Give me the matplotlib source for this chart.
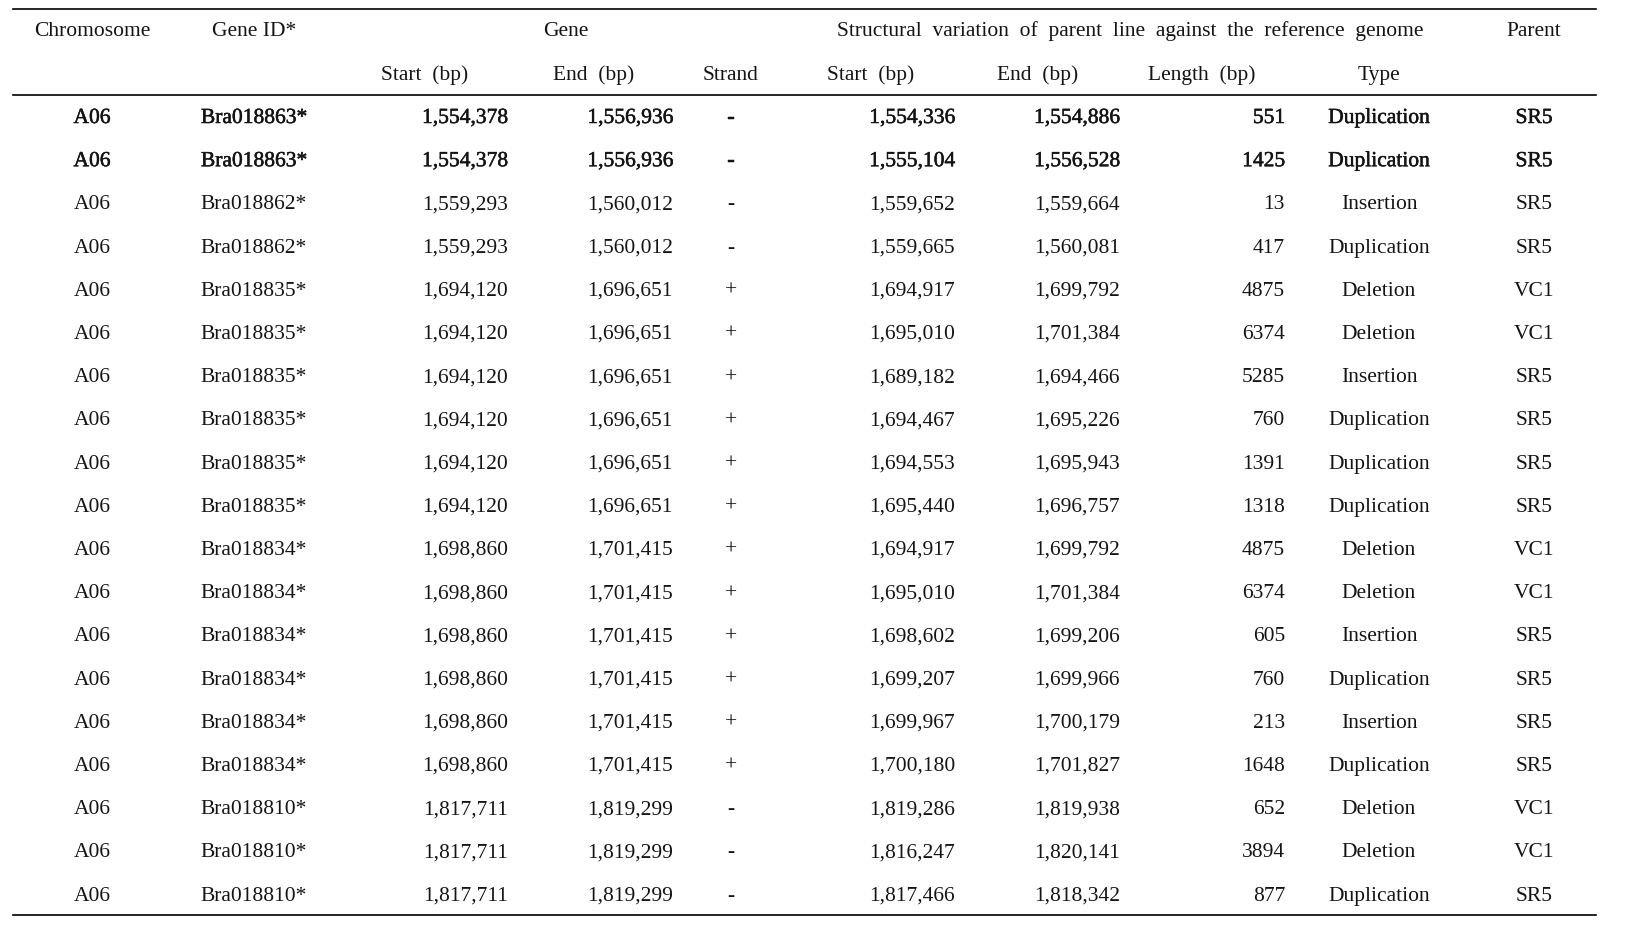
import matplotlib
matplotlib.use("Agg")
import matplotlib.pyplot as plt
import matplotlib.patheffects as pe

plt.rcParams['font.family'] = ['Liberation Serif', 'DejaVu Serif']

# table data
chromosome = ["A06"] * 19
gene_id = ["Bra018863*", "Bra018863*", "Bra018862*", "Bra018862*",
           "Bra018835*", "Bra018835*", "Bra018835*", "Bra018835*", "Bra018835*", "Bra018835*",
           "Bra018834*", "Bra018834*", "Bra018834*", "Bra018834*", "Bra018834*", "Bra018834*",
           "Bra018810*", "Bra018810*", "Bra018810*"]
gene_start = [1554378, 1554378, 1559293, 1559293,
              1694120, 1694120, 1694120, 1694120, 1694120, 1694120,
              1698860, 1698860, 1698860, 1698860, 1698860, 1698860,
              1817711, 1817711, 1817711]
gene_end = [1556936, 1556936, 1560012, 1560012,
            1696651, 1696651, 1696651, 1696651, 1696651, 1696651,
            1701415, 1701415, 1701415, 1701415, 1701415, 1701415,
            1819299, 1819299, 1819299]
strand = ["-", "-", "-", "-", "+", "+", "+", "+", "+", "+",
          "+", "+", "+", "+", "+", "+", "-", "-", "-"]
sv_start = [1554336, 1555104, 1559652, 1559665, 1694917, 1695010, 1689182, 1694467,
            1694553, 1695440, 1694917, 1695010, 1698602, 1699207, 1699967, 1700180,
            1819286, 1816247, 1817466]
sv_end = [1554886, 1556528, 1559664, 1560081, 1699792, 1701384, 1694466, 1695226,
          1695943, 1696757, 1699792, 1701384, 1699206, 1699966, 1700179, 1701827,
          1819938, 1820141, 1818342]
sv_length = [551, 1425, 13, 417, 4875, 6374, 5285, 760, 1391, 1318,
             4875, 6374, 605, 760, 213, 1648, 652, 3894, 877]
sv_type = ["Duplication", "Duplication", "Insertion", "Duplication", "Deletion", "Deletion",
           "Insertion", "Duplication", "Duplication", "Duplication", "Deletion", "Deletion",
           "Insertion", "Duplication", "Insertion", "Duplication", "Deletion", "Deletion",
           "Duplication"]
parent = ["SR5", "SR5", "SR5", "SR5", "VC1", "VC1", "SR5", "SR5", "SR5", "SR5",
          "VC1", "VC1", "SR5", "SR5", "SR5", "SR5", "VC1", "VC1", "SR5"]
bold_rows = [0, 1]

W, H = 1647, 941
fig = plt.figure(figsize=(W / 100, H / 100), dpi=100)
ax = fig.add_axes([0, 0, 1, 1])
ax.set_xlim(0, W)
ax.set_ylim(H, 0)
ax.axis('off')

fs = 15.5
color = "#141414"

# rules
x0, x1 = 13, 1596
ax.plot([x0, x1], [8.5, 8.5], color="black", lw=1.2)
ax.plot([x0, x1], [95, 95], color="black", lw=1.2)
ax.plot([x0, x1], [915, 915], color="black", lw=1.2)

# header
h1, h2 = 31, 75
ax.text(92, h1, "Chromosome", ha="center", va="center", fontsize=fs, color=color)
ax.text(254, h1, "Gene ID*", ha="center", va="center", fontsize=fs, color=color)
ax.text(566, h1, "Gene", ha="center", va="center", fontsize=fs, color=color)
ax.text(1130, h1, "Structural  variation  of  parent  line  against  the  reference  genome",
        ha="center", va="center", fontsize=fs, color=color)
ax.text(1534, h1, "Parent", ha="center", va="center", fontsize=fs, color=color)

sub_headers = ["Start  (bp)", "End  (bp)", "Strand", "Start  (bp)", "End  (bp)", "Length  (bp)", "Type"]
sub_x = [425, 594, 731, 871, 1038, 1202, 1379]
for label, xx in zip(sub_headers, sub_x):
    ax.text(xx, h2, label, ha="center", va="center", fontsize=fs, color=color)

# body
y_first, dy = 118.5, 43.2
# first two rows are only slightly heavier in the source
heavy = [pe.withStroke(linewidth=0.35, foreground=color)]
for i in range(len(chromosome)):
    y = y_first + i * dy
    kw = dict(va="center", fontsize=fs, color=color)
    if i in bold_rows:
        kw["path_effects"] = heavy
    ax.text(92, y, chromosome[i], ha="center", **kw)
    ax.text(254, y, gene_id[i], ha="center", **kw)
    ax.text(508, y, f"{gene_start[i]:,}", ha="right", **kw)
    ax.text(673, y, f"{gene_end[i]:,}", ha="right", **kw)
    ax.text(731, y, strand[i], ha="center", **kw)
    ax.text(955, y, f"{sv_start[i]:,}", ha="right", **kw)
    ax.text(1120, y, f"{sv_end[i]:,}", ha="right", **kw)
    ax.text(1285, y, str(sv_length[i]), ha="right", **kw)
    ax.text(1379, y, sv_type[i], ha="center", **kw)
    ax.text(1534, y, parent[i], ha="center", **kw)

fig.savefig("out.png", dpi=100, facecolor="white")
